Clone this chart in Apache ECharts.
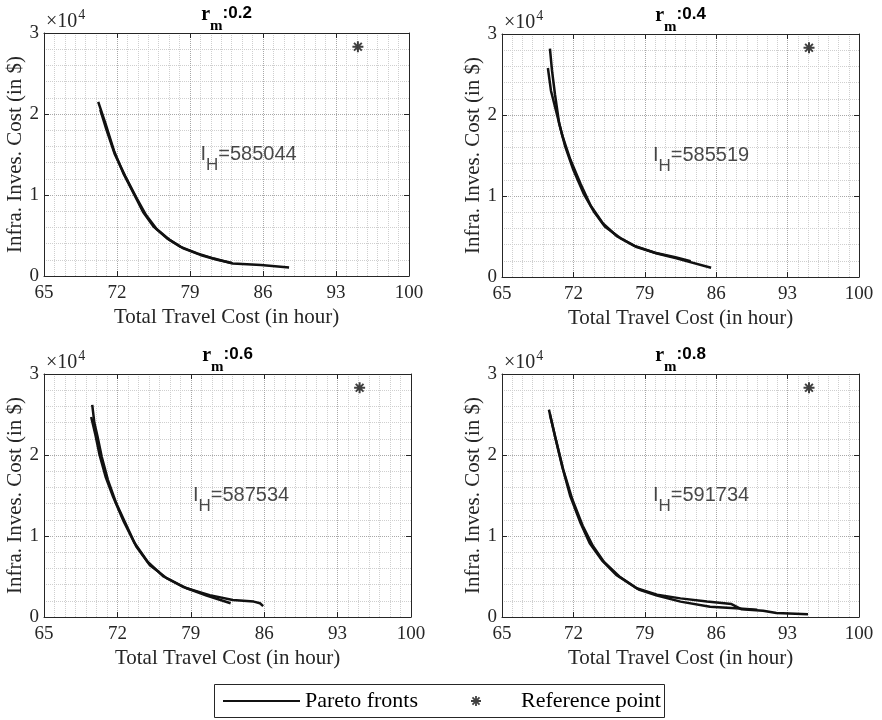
<!DOCTYPE html>
<html>
<head>
<meta charset="utf-8">
<title>Pareto fronts</title>
<script src="https://cdn.jsdelivr.net/npm/echarts@6/dist/echarts.min.js"></script>
<style>
html,body{margin:0;padding:0;background:#fff}
#main{width:882px;height:720px}
</style>
</head>
<body>
<div id="main"></div>
<script>
// panel labels
const rmValues = ['0.2', '0.4', '0.6', '0.8'];
const hvValues = ['585044', '585519', '587534', '591734'];
const hvTextPos = [[80, 15000], [79.8, 15000], [79.2, 15000], [79.8, 15000]];
const refPoint = [95.1, 28300];

// pareto fronts, [travel cost, invest cost]
const front02a = [[70.2,21500],[70.9,18800],[71.7,15500],[72.6,12700],[73.6,10200],[74.5,7900],[75.5,6100],[76.8,4650],[78.1,3600],[79.7,2800],[81.3,2150],[83.1,1550],[85.8,1350],[88.5,1050]];
const front02b = [[70.4,20500],[71.0,18000],[71.8,15000],[72.8,12300],[73.8,9800],[74.8,7500],[75.8,5800],[77.0,4500],[78.3,3450],[80.0,2600],[81.6,2000],[83.0,1600]];

const front04a = [[69.7,28200],[69.9,25500],[70.2,22500],[70.6,19000],[71.2,16100],[72.0,13200],[73.0,10300],[74.0,8100],[75.1,6200],[76.6,4800],[78.2,3700],[80.2,2900],[82.1,2300],[85.5,1150]];
const front04b = [[69.5,25800],[69.8,23000],[70.3,20500],[70.9,17500],[71.7,14500],[72.7,11500],[73.7,8800],[74.9,6600],[76.3,5000],[78.0,3850],[80.0,3000],[82.0,2450],[83.5,1950]];

const front06a = [[69.6,26200],[69.8,24000],[70.1,22300],[70.5,19800],[71.1,16900],[71.9,14000],[72.9,11200],[73.8,8700],[75.1,6400],[76.7,4800],[78.6,3550],[80.8,2700],[83.0,2100],[85.0,1900],[85.6,1700],[85.9,1350]];
const front06b = [[69.5,24700],[69.9,22500],[70.3,20000],[70.9,17200],[71.6,14800],[72.6,11800],[73.6,9200],[74.9,6800],[76.4,5000],[78.3,3700],[80.5,2650],[82.8,1700]];

const front08a = [[69.6,25600],[70.2,22300],[70.9,18600],[71.7,14900],[72.7,11600],[73.6,9100],[74.8,7000],[76.2,5200],[78.2,3550],[80.2,2750],[82.5,2300],[85.1,1900],[87.5,1600],[88.5,950],[90.6,780],[91.9,500],[95.0,350]];
const front08b = [[69.7,25000],[70.3,21800],[71.0,18200],[71.9,14500],[72.9,11300],[73.9,8800],[75.0,6800],[76.5,5000],[78.4,3400],[80.2,2650],[82.5,1900],[85.4,1270],[87.9,1070],[90.0,900]];

const fronts = [[front02a, front02b], [front04a, front04b], [front06a, front06b], [front08a, front08b]];

const xMin = 65, xMax = 100, xStep = 7;
const yMin = 0, yMax = 30000, yStep = 10000;

const ink = '#262626';
const serif = 'Liberation Serif';
const star = 'path://M-1.8,-10L1.8,-10L1.8,10L-1.8,10Z M-10,-1.8L10,-1.8L10,1.8L-10,1.8Z M-5.8,-8.34L8.34,5.8L5.8,8.34L-8.34,-5.8Z M5.8,-8.34L8.34,-5.8L-5.8,8.34L-8.34,5.8Z';

let chart = echarts.init(document.getElementById('main'));

const grids = [
    {left: 44, top: 33, width: 365, height: 243},
    {left: 502, top: 34, width: 357, height: 243},
    {left: 44, top: 374, width: 367, height: 243},
    {left: 502, top: 374, width: 357, height: 243}
];

let xAxes = [], yAxes = [], series = [], graphics = [];

grids.forEach(function (g, i) {
    g.outerBoundsMode = 'none';
    xAxes.push({
        type: 'value', gridIndex: i, min: xMin, max: xMax, interval: xStep, position: 'bottom',
        name: 'Total Travel Cost (in hour)', nameLocation: 'middle', nameGap: 31,
        nameTextStyle: {fontFamily: serif, fontSize: 21, color: ink},
        axisLine: {onZero: false, lineStyle: {color: ink, width: 1}},
        axisTick: {inside: true, length: 5, lineStyle: {color: ink}},
        axisLabel: {fontFamily: serif, fontSize: 19, color: ink, margin: 8},
        splitLine: {show: true, lineStyle: {type: 'dotted', color: '#a8a8a8'}},
        minorTick: {show: false, splitNumber: 7},
        minorSplitLine: {show: true, lineStyle: {type: 'dotted', color: '#cfcfcf'}}
    });
    yAxes.push({
        type: 'value', gridIndex: i, min: yMin, max: yMax, interval: yStep, position: 'left',
        name: 'Infra. Inves. Cost (in $)', nameLocation: 'middle', nameGap: 18,
        nameTextStyle: {fontFamily: serif, fontSize: 21, color: ink},
        axisLine: {onZero: false, lineStyle: {color: ink, width: 1}},
        axisTick: {inside: true, length: 5, lineStyle: {color: ink}},
        axisLabel: {fontFamily: serif, fontSize: 19, color: ink, margin: 5,
            formatter: function (v) { return v / 10000; }},
        splitLine: {show: true, lineStyle: {type: 'dotted', color: '#a8a8a8'}},
        minorTick: {show: false, splitNumber: 5},
        minorSplitLine: {show: true, lineStyle: {type: 'dotted', color: '#cfcfcf'}}
    });

    fronts[i].forEach(function (f) {
        series.push({
            type: 'line', name: 'Pareto fronts', xAxisIndex: i, yAxisIndex: i,
            data: f, symbol: 'none', silent: true,
            lineStyle: {color: '#111', width: 2.5}, itemStyle: {color: '#111'}
        });
    });
    series.push({
        type: 'scatter', name: 'Reference point', xAxisIndex: i, yAxisIndex: i,
        data: [refPoint], symbol: star, symbolSize: 11, symbolKeepAspect: true,
        itemStyle: {color: '#111'}, silent: true
    });
    series.push({
        type: 'scatter', name: 'hv' + i, xAxisIndex: i, yAxisIndex: i,
        data: [hvTextPos[i]], symbolSize: 0, silent: true,
        label: {
            show: true, position: 'right', distance: 0,
            formatter: '{m|I}{s|H}{m|=' + hvValues[i] + '}',
            rich: {
                m: {fontFamily: 'Liberation Sans', fontSize: 20, lineHeight: 21, verticalAlign: 'top', color: '#1a1a1a'},
                s: {fontFamily: 'Liberation Sans', fontSize: 17, lineHeight: 17, padding: [13, 0, 0, 0], verticalAlign: 'top', color: '#1a1a1a'}
            }
        }
    });

    // title r_m:x
    graphics.push({
        type: 'text', x: g.left + g.width / 2, y: g.top - 28,
        style: {
            text: '{r|r}{s|m}{b|:' + rmValues[i] + '}', align: 'center', verticalAlign: 'top',
            rich: {
                r: {fontFamily: serif, fontWeight: 'bold', fontSize: 20, lineHeight: 20, verticalAlign: 'top', fill: '#000'},
                s: {fontFamily: serif, fontWeight: 'bold', fontSize: 15, lineHeight: 15, padding: [14, 0, 0, 0], verticalAlign: 'top', fill: '#000'},
                b: {fontFamily: 'Liberation Sans', fontWeight: 'bold', fontSize: 17, lineHeight: 20, verticalAlign: 'top', fill: '#000'}
            }
        }
    });
    // x10^4 exponent
    graphics.push({
        type: 'text', x: g.left + 2, y: g.top - 1,
        style: {
            text: '{a|\u00d710}{p|4}', align: 'left', verticalAlign: 'bottom',
            rich: {
                a: {fontFamily: serif, fontSize: 20, lineHeight: 20, verticalAlign: 'bottom', fill: ink},
                p: {fontFamily: serif, fontSize: 14, lineHeight: 14, padding: [0, 0, 10, 1], verticalAlign: 'bottom', fill: ink}
            }
        }
    });
});

// legend frame
graphics.push({
    type: 'rect', shape: {x: 214.5, y: 684.5, width: 450, height: 33},
    style: {fill: '#fff', stroke: ink, lineWidth: 1}, z: -1
});

let option = {
    animation: false,
    backgroundColor: '#fff',
    grid: grids,
    xAxis: xAxes.concat(grids.map(function (g, i) {
        return {type: 'value', gridIndex: i, min: xMin, max: xMax, interval: xStep, position: 'top',
            axisLine: {onZero: false, lineStyle: {color: ink}},
            axisTick: {inside: true, length: 5, lineStyle: {color: ink}},
            axisLabel: {show: false}, splitLine: {show: false}};
    })),
    yAxis: yAxes.concat(grids.map(function (g, i) {
        return {type: 'value', gridIndex: i, min: yMin, max: yMax, interval: yStep, position: 'right',
            axisLine: {onZero: false, lineStyle: {color: ink}},
            axisTick: {inside: true, length: 5, lineStyle: {color: ink}},
            axisLabel: {show: false}, splitLine: {show: false}};
    })),
    legend: [{
        data: [{name: 'Pareto fronts', icon: 'path://M0,0L100,0L100,2.6L0,2.6Z'}],
        left: 223, top: 690, padding: 0,
        itemWidth: 77, itemHeight: 11,
        selectedMode: false,
        textStyle: {fontFamily: serif, fontSize: 22, color: '#000'}
    }, {
        data: ['Reference point'],
        left: 471, top: 690, padding: 0,
        itemWidth: 10, itemHeight: 10,
        selectedMode: false,
        textStyle: {fontFamily: serif, fontSize: 22, color: '#000', padding: [0, 0, 0, 35]}
    }],
    graphic: graphics,
    series: series
};

chart.setOption(option);
</script>
</body>
</html>
